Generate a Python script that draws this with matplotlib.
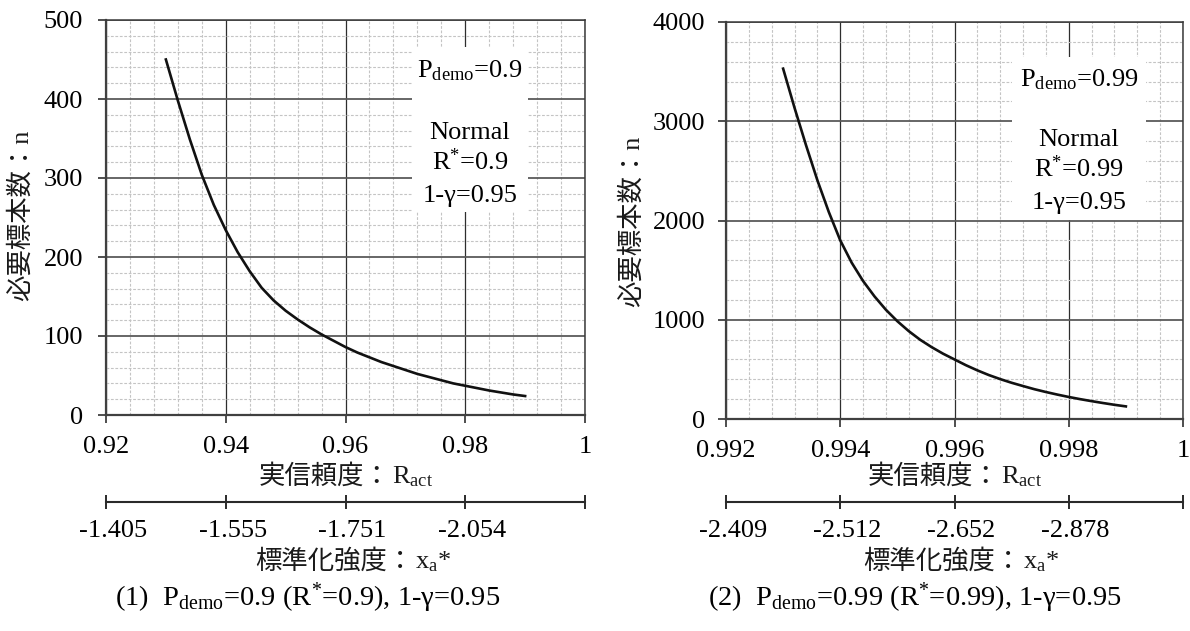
import matplotlib
matplotlib.use('Agg')
import matplotlib.pyplot as plt
from matplotlib.ticker import MultipleLocator
from matplotlib.patches import Rectangle
from matplotlib.offsetbox import TextArea, HPacker, AnnotationBbox
from matplotlib.transforms import ScaledTranslation

plt.rcParams['font.family'] = ['Liberation Serif', 'Noto Sans CJK JP']
plt.rcParams['mathtext.fontset'] = 'custom'
plt.rcParams['mathtext.rm'] = 'Liberation Serif'
plt.rcParams['mathtext.it'] = 'Liberation Serif:italic'
plt.rcParams['mathtext.default'] = 'regular'

# ---------------- data ----------------
r_act_1 = [0.930, 0.932, 0.934, 0.936, 0.938, 0.940, 0.942, 0.944, 0.946, 0.948,
           0.950, 0.952, 0.954, 0.956, 0.958, 0.960, 0.962, 0.964, 0.966, 0.968,
           0.970, 0.972, 0.974, 0.976, 0.978, 0.980, 0.982, 0.984, 0.986, 0.988,
           0.990]
n_1 = [450, 398, 349, 304, 266, 234, 206, 182, 161, 145,
       132, 121, 111, 102, 94, 86, 79, 73, 67, 62,
       57, 52, 48, 44, 40, 37, 34, 31, 28.5, 26,
       24]

r_act_2 = [0.9930, 0.9932, 0.9934, 0.9936, 0.9938, 0.9940, 0.9942, 0.9944, 0.9946, 0.9948,
           0.9950, 0.9952, 0.9954, 0.9956, 0.9958, 0.9960, 0.9962, 0.9964, 0.9966, 0.9968,
           0.9970, 0.9972, 0.9974, 0.9976, 0.9978, 0.9980, 0.9982, 0.9984, 0.9986, 0.9988,
           0.9990]
n_2 = [3530, 3135, 2760, 2405, 2085, 1800, 1575, 1390, 1235, 1100,
       985, 885, 798, 724, 658, 600, 542, 490, 443, 402,
       365, 332, 300, 272, 246, 222, 200, 180, 161, 143,
       127]

xticks_1 = [0.92, 0.94, 0.96, 0.98, 1.0]
xtick_labels_1 = ['0.92', '0.94', '0.96', '0.98', '1']
yticks_1 = [0, 100, 200, 300, 400, 500]
xa_labels_1 = ['-1.405', '-1.555', '-1.751', '-2.054', '']

xticks_2 = [0.992, 0.994, 0.996, 0.998, 1.0]
xtick_labels_2 = ['0.992', '0.994', '0.996', '0.998', '1']
yticks_2 = [0, 1000, 2000, 3000, 4000]
xa_labels_2 = ['-2.409', '-2.512', '-2.652', '-2.878', '']

info_1 = ['P$_{\\mathrm{demo}}$=0.9', 'Normal', 'R$^{*}$=0.9', '1-γ=0.95']
info_2 = ['P$_{\\mathrm{demo}}$=0.99', 'Normal', 'R$^{*}$=0.99', '1-γ=0.95']
caption_1 = '(1)  P$_{\\mathrm{demo}}$=0.9 (R$^{*}$=0.9), 1-γ=0.95'
caption_2 = '(2)  P$_{\\mathrm{demo}}$=0.99 (R$^{*}$=0.99), 1-γ=0.95'
ylabel_text = '必要標本数：n'
xlabel_jp = '実信頼度：'
xlabel_lat = 'R$_{\\mathrm{act}}$'
xalabel_jp = '標準化強度：'
xalabel_lat = 'x$_{\\mathrm{a}}$*'

# ---------------- figure ----------------
W, H = 1190, 631
fig = plt.figure(figsize=(W / 100, H / 100), dpi=100)
FS = 19
CJK = ['Noto Sans CJK JP']
SERIF = ['Liberation Serif']


def fx(px):
    return px / W


def fy(py):
    return 1 - py / H


def make_panel(rect_px, r, n, xlim, xticks, xlabels, yticks, xminor, yminor,
               ypad, info, info_x, info_base, box_px):
    x0, y0, x1, y1 = rect_px
    ax = fig.add_axes([fx(x0), fy(y1), (x1 - x0) / W, (y1 - y0) / H])
    ax.set_xlim(*xlim)
    ax.set_ylim(yticks[0], yticks[-1])
    ax.set_xticks(xticks, xlabels)
    ax.set_yticks(yticks)
    ax.xaxis.set_minor_locator(MultipleLocator(xminor))
    ax.yaxis.set_minor_locator(MultipleLocator(yminor))
    ax.set_axisbelow(True)
    ax.grid(which='minor', color='#c4c4c4', lw=0.8, ls=(0, (2.5, 1.5)))
    ax.grid(which='major', axis='x', color='#2e2e2e', lw=0.9)
    ax.grid(which='major', axis='y', color='#5a5a5a', lw=1.3)
    ax.tick_params(which='minor', length=0)
    ax.tick_params(which='major', direction='out', length=6, width=1.3,
                   color='#404040', labelsize=FS)
    ax.tick_params(axis='x', pad=9)
    ax.tick_params(axis='y', pad=ypad)
    for s in ['left', 'bottom']:
        ax.spines[s].set_color('#404040')
        ax.spines[s].set_linewidth(1.6)
    for s in ['top', 'right']:
        ax.spines[s].set_color('#3a3a3a')
        ax.spines[s].set_linewidth(1.1)
    ax.plot(r, n, color='#111111', lw=1.9, zorder=3, solid_joinstyle='round')

    # white info box
    bx0, by0, bx1, by1 = box_px
    fig.add_artist(Rectangle((fx(bx0), fy(by1)), (bx1 - bx0) / W, (by1 - by0) / H,
                             transform=fig.transFigure, facecolor='white',
                             edgecolor='none', zorder=2.5))
    for txt, yb in zip(info, info_base):
        fig.text(fx(info_x), fy(yb), txt, ha='center', va='baseline',
                 fontsize=FS, family=SERIF, zorder=3)
    return ax


ax1 = make_panel((106, 20, 585, 415), r_act_1, n_1, (0.92, 1.0), xticks_1,
                 xtick_labels_1, yticks_1, 0.004, 20, 10.5,
                 info_1, 470, [77, 139, 170, 202], (412, 47, 528, 212))
ax2 = make_panel((726, 22, 1183, 419), r_act_2, n_2, (0.992, 1.0), xticks_2,
                 xtick_labels_2, yticks_2, 0.0004, 200, 9,
                 info_2, 1079, [86, 146, 177, 209], (1012, 57, 1146, 220))


def sec_axis(ax_main, y_px, ticks, labels):
    pos = ax_main.get_position()
    a = fig.add_axes([pos.x0, fy(y_px), pos.width, 0.0001])
    a.set_xlim(ax_main.get_xlim())
    a.set_facecolor('none')
    for s in ['top', 'left', 'right']:
        a.spines[s].set_visible(False)
    a.spines['bottom'].set_color('#2a2a2a')
    a.spines['bottom'].set_linewidth(1.5)
    a.set_yticks([])
    a.set_xticks(ticks, labels)
    a.tick_params(axis='x', direction='inout', length=10, width=1.4,
                  color='#2a2a2a', labelsize=FS, pad=8)
    off = ScaledTranslation(7 / 100, 0, fig.dpi_scale_trans)
    for lab in a.get_xticklabels():
        lab.set_transform(lab.get_transform() + off)
    return a


sec_axis(ax1, 502, xticks_1, xa_labels_1)
sec_axis(ax2, 502, xticks_2, xa_labels_2)


def combo(parts, x, y):
    kids = [TextArea(s, textprops=dict(fontsize=FS, family=f, color='#1a1a1a'))
            for s, f in parts]
    pack = HPacker(children=kids, align='baseline', pad=0, sep=1)
    ab = AnnotationBbox(pack, (fx(x), fy(y)), xycoords='figure fraction',
                        frameon=False, box_alignment=(0.5, 0.5), pad=0)
    fig.add_artist(ab)


combo([(xlabel_jp, CJK), (xlabel_lat, SERIF)], 346, 476)
combo([(xlabel_jp, CJK), (xlabel_lat, SERIF)], 955, 476)
combo([(xalabel_jp, CJK), (xalabel_lat, SERIF)], 353, 561)
combo([(xalabel_jp, CJK), (xalabel_lat, SERIF)], 961, 561)

fig.text(fx(21), fy(215), ylabel_text, rotation=90, ha='center', va='center',
         fontsize=FS, color='#1a1a1a')
fig.text(fx(632), fy(221), ylabel_text, rotation=90, ha='center', va='center',
         fontsize=FS, color='#1a1a1a')

fig.text(fx(308), fy(598), caption_1, ha='center', va='center', fontsize=20.5,
         family=SERIF)
fig.text(fx(915), fy(598), caption_2, ha='center', va='center', fontsize=20.5,
         family=SERIF)

fig.savefig('out.png', dpi=100, facecolor='white')
